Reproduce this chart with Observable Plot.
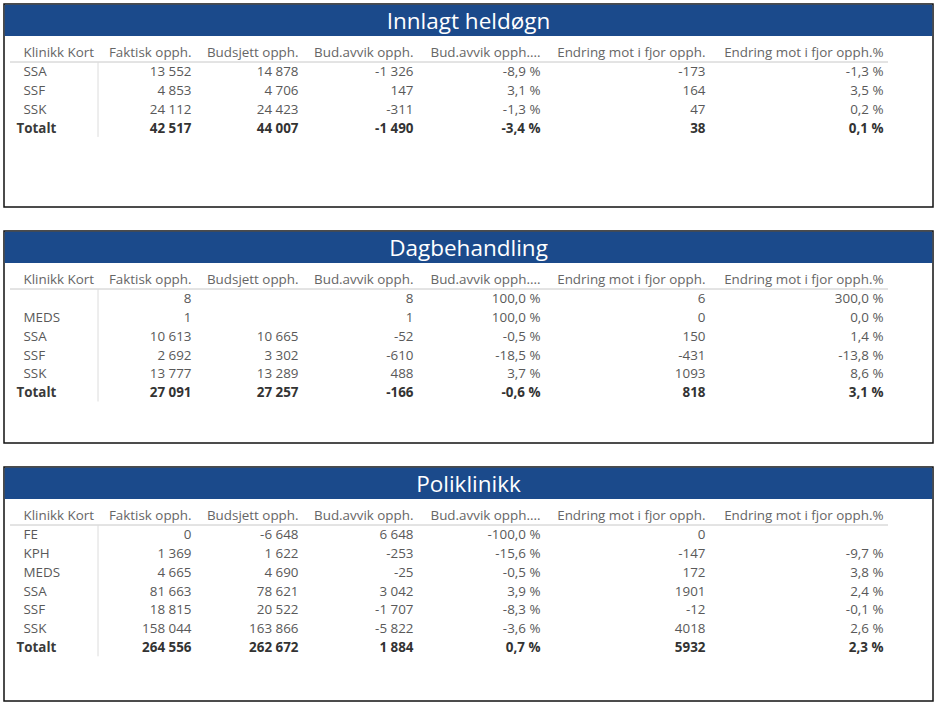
<!DOCTYPE html>
<html>
<head>
<meta charset="utf-8">
<script src="https://cdn.jsdelivr.net/npm/d3@7"></script>
<script src="https://cdn.jsdelivr.net/npm/@observablehq/plot@0.6"></script>
<style>
  html, body { margin: 0; padding: 0; background: #fff; }
  #chart svg { display: block; }
</style>
</head>
<body>
<div id="chart"></div>
<script>
// ---------- DATA ----------
const panelTitles = ["Innlagt heldøgn", "Dagbehandling", "Poliklinikk"];
const columnHeaders = ["Klinikk Kort", "Faktisk opph.", "Budsjett opph.", "Bud.avvik opph.", "Bud.avvik opph....", "Endring mot i fjor opph.", "Endring mot i fjor opph.%"];

// Innlagt heldøgn
const inn_klinikk   = ["SSA", "SSF", "SSK", "Totalt"];
const inn_faktisk   = [13552, 4853, 24112, 42517];
const inn_budsjett  = [14878, 4706, 24423, 44007];
const inn_avvik     = [-1326, 147, -311, -1490];
const inn_avvikPct  = [-8.9, 3.1, -1.3, -3.4];
const inn_endring   = [-173, 164, 47, 38];
const inn_endringPct= [-1.3, 3.5, 0.2, 0.1];

// Dagbehandling
const dag_klinikk   = ["", "MEDS", "SSA", "SSF", "SSK", "Totalt"];
const dag_faktisk   = [8, 1, 10613, 2692, 13777, 27091];
const dag_budsjett  = [null, null, 10665, 3302, 13289, 27257];
const dag_avvik     = [8, 1, -52, -610, 488, -166];
const dag_avvikPct  = [100.0, 100.0, -0.5, -18.5, 3.7, -0.6];
const dag_endring   = [6, 0, 150, -431, 1093, 818];
const dag_endringPct= [300.0, 0.0, 1.4, -13.8, 8.6, 3.1];

// Poliklinikk
const pol_klinikk   = ["FE", "KPH", "MEDS", "SSA", "SSF", "SSK", "Totalt"];
const pol_faktisk   = [0, 1369, 4665, 81663, 18815, 158044, 264556];
const pol_budsjett  = [-6648, 1622, 4690, 78621, 20522, 163866, 262672];
const pol_avvik     = [6648, -253, -25, 3042, -1707, -5822, 1884];
const pol_avvikPct  = [-100.0, -15.6, -0.5, 3.9, -8.3, -3.6, 0.7];
const pol_endring   = [0, -147, 172, 1901, -12, 4018, 5932];
const pol_endringPct= [null, -9.7, 3.8, 2.4, -0.1, 2.6, 2.3];

// ---------- FORMATTING ----------
const loc = d3.formatLocale({decimal: ",", thousands: " ", grouping: [3], currency: ["", ""], minus: "-"});
const fInt = loc.format(",d");
const fPlain = loc.format("d");
const fPct = v => loc.format(".1f")(v) + " %";

// ---------- LAYOUT ----------
const W = 936, H = 704;
const panels = [
  {title: panelTitles[0], top: 4, bottom: 207, cols: [inn_faktisk, inn_budsjett, inn_avvik, inn_avvikPct, inn_endring, inn_endringPct], klinikk: inn_klinikk},
  {title: panelTitles[1], top: 231, bottom: 443, cols: [dag_faktisk, dag_budsjett, dag_avvik, dag_avvikPct, dag_endring, dag_endringPct], klinikk: dag_klinikk},
  {title: panelTitles[2], top: 467, bottom: 701, cols: [pol_faktisk, pol_budsjett, pol_avvik, pol_avvikPct, pol_endring, pol_endringPct], klinikk: pol_klinikk}
];
const colRight = [191, 298, 413, 540, 705, 883];
const colFmt = [fInt, fInt, fInt, fPct, fPlain, fPct];
const rowStep = 18.8;
const fs = 13.4;

const headerCells = [], dataCells = [], labelCells = [], rules = [], vrules = [];
panels.forEach(p => {
  headerCells.push({x: 23, y: p.top + 48, text: columnHeaders[0], anchor: "start"});
  columnHeaders.slice(1).forEach((h, i) => headerCells.push({x: colRight[i], y: p.top + 48, text: h, anchor: "end"}));
  rules.push({x1: 10, x2: 888, y: p.top + 57.5});
  const n = p.klinikk.length;
  vrules.push({x: 97.5, y1: p.top + 58, y2: p.top + 67.5 + (n - 1) * rowStep + 9});
  p.klinikk.forEach((k, r) => {
    const bold = k === "Totalt";
    const y = p.top + 67.5 + r * rowStep;
    labelCells.push({x: bold ? 16 : 23, y, text: k, bold});
    p.cols.forEach((arr, c) => {
      const v = arr[r];
      if (v == null) return;
      dataCells.push({x: colRight[c], y, text: colFmt[c](v), bold});
    });
  });
});

const font = "'Segoe UI', 'Open Sans', 'Noto Sans', sans-serif";

const chart = Plot.plot({
  width: W, height: H,
  margin: 0,
  x: {domain: [0, W], range: [0, W], axis: null},
  y: {domain: [0, H], range: [0, H], axis: null},
  style: {fontFamily: font, background: "#fff"},
  marks: [
    // panel frames
    Plot.rect(panels, {x1: () => 4, x2: () => 933, y1: d => d.top, y2: d => d.bottom, fill: "#fff", stroke: "#111", strokeWidth: 1.5}),
    // title bars
    Plot.rect(panels, {x1: () => 4.75, x2: () => 932.25, y1: d => d.top + 0.75, y2: d => d.top + 32, fill: "#1b4a8b"}),
    Plot.text(panels, {x: () => 468, y: d => d.top + 17, text: "title", fill: "#fff", fontSize: 22.5, fontFamily: font}),
    // header underline & separator
    Plot.ruleY(rules, {x1: "x1", x2: "x2", y: "y", stroke: "#c8c8c8", strokeWidth: 1}),
    Plot.ruleX(vrules, {x: "x", y1: "y1", y2: "y2", stroke: "#dcdcdc", strokeWidth: 1}),
    // column headers
    Plot.text(headerCells.filter(d => d.anchor === "start"), {x: "x", y: "y", text: "text", textAnchor: "start", fill: "#666", fontSize: fs}),
    Plot.text(headerCells.filter(d => d.anchor === "end"), {x: "x", y: "y", text: "text", textAnchor: "end", fill: "#666", fontSize: fs}),
    // row labels
    Plot.text(labelCells.filter(d => !d.bold), {x: "x", y: "y", text: "text", textAnchor: "start", fill: "#595959", fontSize: fs}),
    Plot.text(labelCells.filter(d => d.bold), {x: "x", y: "y", text: "text", textAnchor: "start", fill: "#3a3a3a", fontSize: fs, fontWeight: "bold"}),
    // values
    Plot.text(dataCells.filter(d => !d.bold), {x: "x", y: "y", text: "text", textAnchor: "end", fill: "#595959", fontSize: fs}),
    Plot.text(dataCells.filter(d => d.bold), {x: "x", y: "y", text: "text", textAnchor: "end", fill: "#333", fontSize: fs, fontWeight: "bold"})
  ]
});
document.getElementById("chart").appendChild(chart);
</script>
</body>
</html>
